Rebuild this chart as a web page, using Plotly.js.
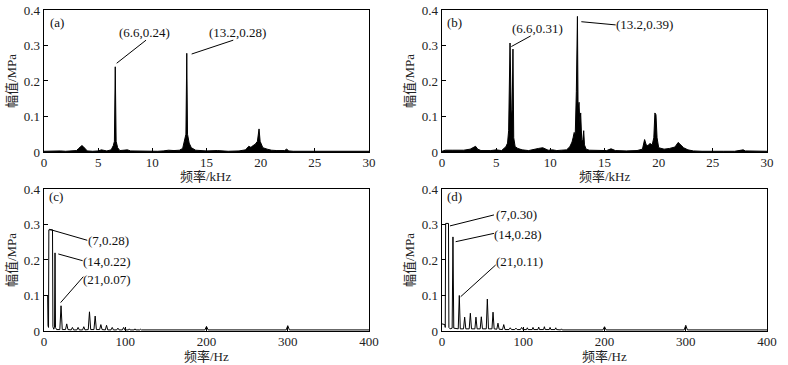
<!DOCTYPE html>
<html><head><meta charset="utf-8">
<script src="https://cdn.plot.ly/plotly-3.0.1.min.js"></script>
<style>html,body{margin:0;padding:0;background:#fff}#chart{width:788px;height:365px}</style>
</head><body><div id="chart"></div>
<script>
// ---- Data ----
// (a) frequency kHz / amplitude MPa
const freqA = [0,0.5,1.0,1.5,2.0,2.5,3.0,3.2,3.4,3.5,3.6,3.8,4.0,4.5,5.0,5.3,5.5,5.8,6.2,6.4,6.5,6.58,6.66,6.8,7.0,7.5,7.7,8.0,9.0,10.0,10.5,11.0,11.5,12.0,12.5,12.8,13.0,13.1,13.18,13.25,13.4,13.6,14.0,15.0,16.0,16.5,17.0,18.0,18.6,18.9,19.1,19.3,19.5,19.7,19.85,19.95,20.2,20.6,21.0,21.5,22.2,22.4,22.6,23,24,25,26,27,28,29,30];
const ampA  = [0.002,0.003,0.002,0.003,0.002,0.003,0.004,0.010,0.017,0.018,0.016,0.008,0.003,0.002,0.003,0.006,0.005,0.003,0.006,0.018,0.03,0.24,0.03,0.012,0.004,0.004,0.006,0.003,0.002,0.003,0.002,0.003,0.005,0.004,0.005,0.010,0.035,0.05,0.278,0.05,0.025,0.012,0.005,0.003,0.004,0.003,0.002,0.003,0.006,0.016,0.013,0.018,0.022,0.03,0.065,0.03,0.012,0.008,0.005,0.004,0.004,0.008,0.003,0.002,0.002,0.002,0.002,0.002,0.002,0.002,0.002];
// (b)
const freqB = [0,0.3,1,2,2.6,2.9,3.1,3.3,3.6,4.5,5.0,5.5,5.9,6.05,6.15,6.28,6.34,6.4,6.48,6.55,6.62,6.75,7.0,7.4,8.0,8.5,8.9,9.3,9.5,9.8,10.2,10.6,11.0,11.5,11.8,12.0,12.1,12.2,12.3,12.4,12.5,12.56,12.65,12.72,12.8,12.9,13.0,13.08,13.15,13.3,13.6,14.5,15.2,15.6,16.0,17.0,18.0,18.5,18.7,18.85,19.0,19.2,19.4,19.55,19.65,19.75,19.85,20.0,20.5,21.0,21.5,21.8,22.0,22.3,22.7,23.2,24,25,26,27,27.6,27.8,28.0,29,30];
const ampB  = [0.002,0.005,0.005,0.005,0.008,0.012,0.016,0.008,0.004,0.004,0.006,0.004,0.015,0.025,0.06,0.307,0.14,0.10,0.12,0.29,0.04,0.015,0.01,0.006,0.004,0.008,0.01,0.012,0.01,0.005,0.006,0.004,0.005,0.006,0.015,0.028,0.04,0.055,0.05,0.17,0.382,0.12,0.14,0.08,0.11,0.03,0.035,0.06,0.02,0.008,0.005,0.004,0.004,0.009,0.004,0.003,0.004,0.008,0.035,0.02,0.018,0.024,0.02,0.04,0.11,0.105,0.04,0.012,0.008,0.01,0.014,0.027,0.022,0.012,0.006,0.003,0.002,0.003,0.002,0.002,0.004,0.006,0.003,0.002,0.002];
// (c) frequency Hz
const freqC = [0,4.5,5,5.6,6,10.5,11,12,13,13.6,14.2,15.5,
  19.5,21,22.5, 26.5,28,29.5, 33.5,35,36.5, 40.5,42,43.5, 47.5,49,50.5,
  54.5,56,57.5, 61.5,63,64.5, 68.5,70,71.5, 75.5,77,78.5, 82.5,84,85.5,
  89.5,91,92.5, 96.5,98,99.5, 104,105,106, 111,112,113, 118,119,120,
  125,126,127, 132,133,134, 139,140,141, 146,147,148,
  198,200,202, 298,300,302, 400];
const ampC  = [0.1,0.1,0.015,0.01,0.285,0.285,0.012,0.005,0.01,0.22,0.01,0.004,
  0.004,0.071,0.004, 0.004,0.02,0.004, 0.003,0.01,0.003, 0.003,0.01,0.003, 0.003,0.012,0.003,
  0.004,0.054,0.004, 0.004,0.042,0.004, 0.004,0.018,0.004, 0.003,0.016,0.003, 0.003,0.01,0.003,
  0.003,0.008,0.003, 0.003,0.01,0.003, 0.003,0.006,0.003, 0.003,0.006,0.003, 0.003,0.005,0.003,
  0.003,0.005,0.003, 0.003,0.005,0.003, 0.003,0.005,0.003, 0.003,0.005,0.003,
  0.003,0.013,0.003, 0.003,0.015,0.003, 0.003];
// (d)
const freqD = [0,3.5,4,4.5,8,8.5,10,12.5,13.5,14.5,20,
  21.3,22.5, 26.5,27.9,29.3, 33.5,34.9,36.3, 40.5,41.8,43.2, 47,48.4,49.8,
  54.5,55.8,57.2, 61.5,62.8,64.2, 67.5,68.9,70.3, 74.5,76,77.5, 82.5,84,85.5,
  89.5,91,92.5, 96.5,98,99.5, 104,105,106, 111,112,113, 118,119,120,
  125,126,127, 132,133,134, 139,140,141, 146,147,148,
  198,200,202, 298,300,302, 400];
const ampD  = [0.02,0.018,0.01,0.303,0.303,0.01,0.006,0.008,0.265,0.008,0.006,
  0.10,0.006, 0.006,0.039,0.006, 0.006,0.05,0.006, 0.006,0.039,0.006, 0.006,0.04,0.006,
  0.006,0.09,0.006, 0.006,0.053,0.006, 0.005,0.022,0.005, 0.004,0.018,0.004, 0.004,0.009,0.004,
  0.004,0.008,0.004, 0.004,0.01,0.004, 0.004,0.009,0.004, 0.004,0.01,0.004, 0.004,0.011,0.004,
  0.004,0.012,0.004, 0.004,0.01,0.004, 0.004,0.009,0.004, 0.003,0.006,0.003,
  0.003,0.012,0.003, 0.003,0.016,0.003, 0.003];

const panelLabels = ['(a)','(b)','(c)','(d)'];
const peakLabelsA = ['(6.6,0.24)','(13.2,0.28)'];
const peakLabelsB = ['(6.6,0.31)','(13.2,0.39)'];
const peakLabelsC = ['(7,0.28)','(14,0.22)','(21,0.07)'];
const peakLabelsD = ['(7,0.30)','(14,0.28)','(21,0.11)'];
const yTickVals = [0,0.1,0.2,0.3,0.4];
const yTickText = ['0','0.1','0.2','0.3','0.4'];
const xTitleK = '频率/kHz';
const xTitleH = '频率/Hz';
const yTitle = '幅值/MPa';

const FONT = 'Liberation Serif, "Noto Sans CJK SC", serif';

function tr(x,y,xa,ya,fill){
  return {x:x,y:y,xaxis:xa,yaxis:ya,type:'scatter',mode:'lines',
    line:{color:'#000',width:1},fill:fill?'tozeroy':'none',fillcolor:'#000',hoverinfo:'skip'};
}
const data = [
  tr(freqA,ampA,'x','y',true),
  tr(freqB,ampB,'x2','y2',true),
  tr(freqC,ampC,'x3','y3',false),
  tr(freqD,ampD,'x4','y4',false)
];

function xax(dom,anchor,range,dtick){
  return {domain:dom,anchor:anchor,range:range,dtick:dtick,tick0:0,ticks:'inside',ticklen:4,tickwidth:1,tickcolor:'#000',
    ticklabelstandoff:-2,
    showline:true,mirror:true,linecolor:'#000',linewidth:1.3,showgrid:false,zeroline:false,
    tickfont:{family:FONT,size:13,color:'#222'}};
}
function yax(dom,anchor){
  return {domain:dom,anchor:anchor,range:[0,0.4],tickvals:yTickVals,ticktext:yTickText,ticks:'inside',ticklen:4,tickwidth:1,tickcolor:'#000',
    showline:true,mirror:true,linecolor:'#000',linewidth:1.3,showgrid:false,zeroline:false,
    tickfont:{family:FONT,size:13,color:'#222'},
    title:{text:yTitle,font:{family:FONT,size:13,color:'#222'},standoff:4}};
}
const XL=[0.0558,0.4683], XR=[0.5609,0.9734], YT=[0.5836,0.9726], YB=[0.0932,0.4822];

const ann=[], shp=[];
function lab(xr,yr,x,y,t){ann.push({xref:xr,yref:yr,x:x,y:y,text:t,showarrow:false,font:{family:FONT,size:13,color:'#111'}});}
function ln(xr,yr,x0,y0,x1,y1){shp.push({type:'line',xref:xr,yref:yr,x0:x0,y0:y0,x1:x1,y1:y1,line:{color:'#000',width:1}});}
function xt(x,y,t){ann.push({xref:'paper',yref:'paper',x:x,y:y,xanchor:'center',yanchor:'middle',borderpad:0,text:t,showarrow:false,font:{family:FONT,size:13,color:'#222'}});}
// x-axis titles
xt((XL[0]+XL[1])/2,0.5165,xTitleK);
xt((XR[0]+XR[1])/2,0.5165,xTitleK);
xt((XL[0]+XL[1])/2,0.0235,xTitleH);
xt((XR[0]+XR[1])/2,0.0235,xTitleH);
// panel letters
lab('x','y',1.2,0.365,panelLabels[0]);
lab('x2','y2',1.2,0.365,panelLabels[1]);
lab('x3','y3',15,0.38,panelLabels[2]);
lab('x4','y4',16,0.38,panelLabels[3]);
// (a)
ln('x','y',6.71,0.25,9.42,0.315); lab('x','y',9.32,0.3375,peakLabelsA[0]);
ln('x','y',13.63,0.276,17.47,0.315); lab('x','y',17.84,0.3375,peakLabelsA[1]);
// (b)
ln('x2','y2',6.40,0.297,8.19,0.327); lab('x2','y2',8.8,0.348,peakLabelsB[0]);
ln('x2','y2',12.86,0.367,16.03,0.358); lab('x2','y2',18.71,0.358,peakLabelsB[1]);
// (c)
ln('x3','y3',6.5,0.2865,53.3,0.2555); lab('x3','y3',79.2,0.256,peakLabelsC[0]);
ln('x3','y3',17.6,0.217,47.6,0.198); lab('x3','y3',77.9,0.195,peakLabelsC[1]);
ln('x3','y3',20.5,0.080,48.4,0.153); lab('x3','y3',77.9,0.1437,peakLabelsC[2]);
// (d)
ln('x4','y4',9.8,0.296,64.0,0.327); lab('x4','y4',91.9,0.327,peakLabelsD[0]);
ln('x4','y4',16.8,0.2515,64.0,0.275); lab('x4','y4',93.5,0.272,peakLabelsD[1]);
ln('x4','y4',23.0,0.0966,66.1,0.186); lab('x4','y4',94.8,0.195,peakLabelsD[2]);

const layout = {
  width:788,height:365,margin:{l:0,r:0,t:0,b:0},paper_bgcolor:'#fff',plot_bgcolor:'#fff',showlegend:false,
  font:{family:FONT,size:13,color:'#222'},
  xaxis:xax(XL,'y',[0,30],5), yaxis:yax(YT,'x'),
  xaxis2:xax(XR,'y2',[0,30],5), yaxis2:yax(YT,'x2'),
  xaxis3:xax(XL,'y3',[0,400],100), yaxis3:yax(YB,'x3'),
  xaxis4:xax(XR,'y4',[0,400],100), yaxis4:yax(YB,'x4'),
  annotations:ann, shapes:shp
};
Plotly.newPlot('chart',data,layout,{staticPlot:true});
</script></body></html>
